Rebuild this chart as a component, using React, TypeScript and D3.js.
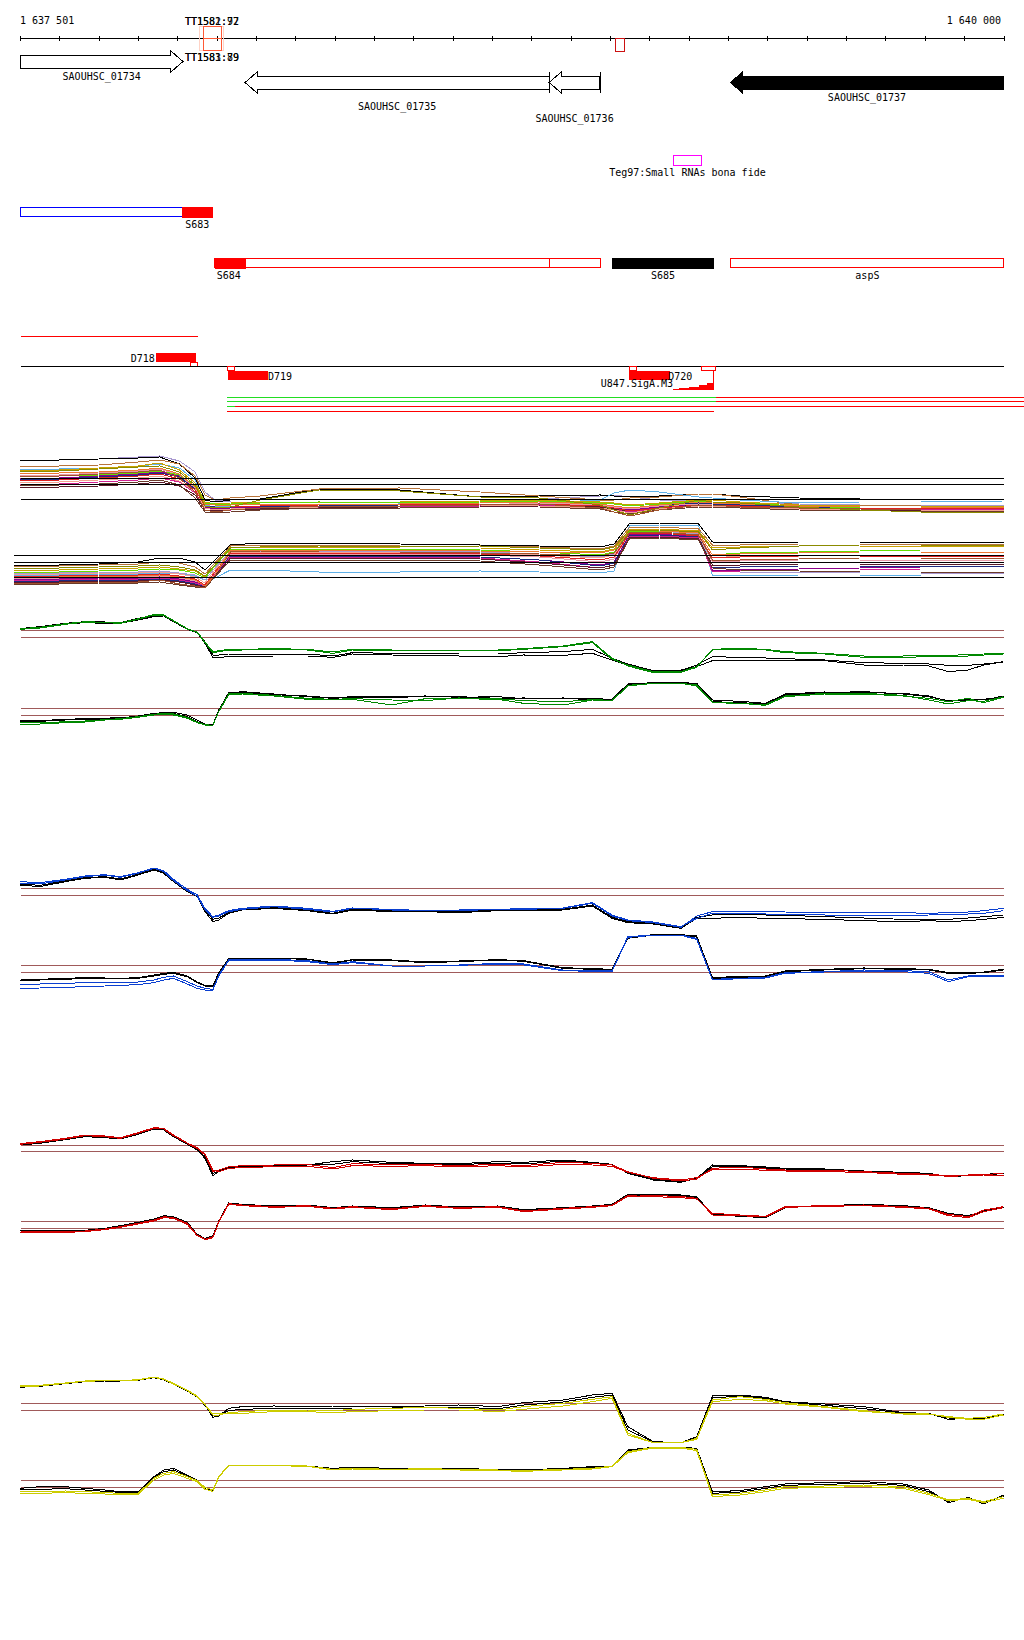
import React from 'react';
import * as d3 from 'd3';

// ---------------- data ----------------
const VIEW_START = 1637501;
const VIEW_END = 1640000;
const EXT_END = 1640052;
const TICKS = d3.range(1637500, 1640001, 100);
const RULER_LABELS = ['1 637 501', '1 640 000'];

const GENE_NAMES = ['SAOUHSC_01734', 'SAOUHSC_01735', 'SAOUHSC_01736', 'SAOUHSC_01737'];
const GENE_STARTS = [1637501, 1638072, 1638845, 1639306];
const GENE_ENDS = [1637914, 1638845, 1638974, 1640000];
const GENE_STRANDS = [1, -1, -1, -1];
const GENE_FILLED = [false, false, false, true];
const GENE_BARRED = [false, true, true, false];

const TT_LABELS_TOP = ['TT1581:97', 'TT1582:72'];
const TT_LABELS_BOTTOM = ['TT1581:79', 'TT1583:89'];
const TT_POS = 1637919;
const TT_BOX_STARTS = [1637957, 1637966];
const TT_BOX_ENDS = [1638016, 1638012];
const TERM_BOX = [1639013, 1639036];

const TEG97_LABEL = 'Teg97:Small RNAs bona fide';
const TEG97 = [1639160, 1639233];

const S683_OUTLINE = [1637501, 1637912];
const S683_FILL = [1637912, 1637990];
const S684_SEGMENTS = [[1637995, 1638845], [1638845, 1638975]];
const S684_FILL = [1637995, 1638074];
const S685_FILL = [1639005, 1639264];
const ASPS_OUTLINE = [1639307, 1640001];

const D_LINE = [1637501, 1637952];
const D718 = [1637845, 1637947];
const D719 = [1638029, 1638130];
const D720 = [1639048, 1639153];
const SMALL_BOXES_UP = [[1637932, 1637952]];
const SMALL_BOXES_DOWN = [[1638026, 1638046], [1639048, 1639066], [1639233, 1639268]];
const STAIR_POS = [1639160, 1639175, 1639201, 1639226, 1639246, 1639264];
const STAIR_VAL = [1, 2, 3.3, 4.7, 6.7, 6.7];
const STAIR_END = 1639264;

// green/red alignment tracks: [start, switch, end]
const ALIGN_TRACKS = [
  [1638026, 1639268, EXT_END],
  [1638026, 1639268, EXT_END],
  [1638026, 1638046, EXT_END],
  [1638026, 1638026, 1639264],
];

// ---------- multi-sample panel ----------
const MPOS_TOP = [1637500, 1637600, 1637700, 1637800, 1637855, 1637905, 1637945, 1637970, 1637995, 1638035, 1638110, 1638260, 1638465, 1638670, 1638820, 1638975, 1639010, 1639050, 1639125, 1639225, 1639260, 1639330, 1639480, 1639635, 1639790, 1640000];
const MPOS_BOT = [1637485, 1637600, 1637700, 1637800, 1637855, 1637905, 1637945, 1637970, 1637995, 1638035, 1638110, 1638260, 1638465, 1638670, 1638820, 1638975, 1639010, 1639050, 1639125, 1639225, 1639260, 1639330, 1639480, 1639635, 1639790, 1640000];
const MREF_TOP = [121.7, 115.7, 100.7];
const MREF_BOT = [45, 37.7, 22.7];

const M_TOP_L16 = [139, 140, 141, 143, 144, 139, 128, 108, 100, 98, 98, 98, 98, 99, 101, 104, 105, 103, 100, 99, 98, 97, 96, 95, 95, 95];
const M_TOP_L1 = [140, 140, 141, 142, 143, 136, 122, 100, 98, 100, 101, 111, 110, 103, 104, 105, 104, 103, 104, 106, 106, 104, 102, 101, 101, 101];
const M_TOP_L2 = [130, 131, 132, 134, 136, 132, 120, 95, 93, 94, 94, 95, 96, 95, 97, 100, 107, 110, 108, 103, 102, 100, 97, 98, 98, 99];
const M_TOP_L13 = [133, 134, 135, 138, 140, 136, 124, 105, 100, 102, 104, 111, 112, 108, 104, 100, 100, 102, 103, 106, 106, 103, 95, 95, 94, 94];
const M_TOP_L12 = [129, 130, 132, 134, 137, 130, 117, 98, 96, 97, 98, 98, 98, 99, 100, 98, 97, 95, 97, 100, 100, 98, 95, 94, 94, 94];
const M_TOP_L6 = [122, 122, 124, 126, 128, 124, 112, 93, 91, 92, 93, 93, 94, 94, 95, 94, 92, 90, 93, 96, 96, 95, 93, 92, 92, 92];
const M_TOP_L15 = [121, 121, 123, 125, 127, 123, 111, 94, 93, 93, 94, 94, 95, 95, 96, 95, 93, 91, 94, 97, 96, 95, 93, 92, 92, 92];
const M_TOP_L10 = [116, 116, 118, 120, 122, 118, 107, 92, 90, 90, 92, 93, 93, 94, 95, 94, 91, 88, 92, 95, 95, 94, 92, 91, 91, 91];
const M_TOP_L11 = [113, 113, 114, 116, 118, 114, 105, 90, 89, 90, 91, 92, 93, 93, 94, 93, 91, 89, 92, 95, 94, 93, 91, 90, 89, 89];
const M_TOP_L17 = [115, 115, 116, 118, 120, 115, 102, 88, 87, 88, 90, 92, 92, 93, 93, 91, 88, 86, 90, 93, 93, 92, 90, 89, 89, 89];
const M_TOP_L14 = [125, 125, 127, 129, 131, 125, 112, 92, 90, 91, 92, 93, 94, 95, 97, 95, 93, 91, 94, 96, 95, 94, 92, 91, 90, 90];
const M_TOP_L9 = [118, 118, 120, 122, 124, 119, 108, 92, 90, 91, 92, 93, 94, 95, 94, 92, 90, 87, 91, 94, 94, 93, 91, 90, 90, 90];
const M_TOP_L7 = [123, 124, 125, 127, 129, 125, 114, 97, 96, 96, 97, 98, 97, 98, 99, 97, 96, 94, 96, 99, 98, 97, 94, 92, 92, 92];
const M_TOP_L8 = [120, 120, 122, 124, 126, 121, 110, 94, 92, 93, 94, 95, 95, 96, 96, 94, 92, 89, 92, 95, 95, 94, 92, 92, 92, 91];
const M_TOP_L5 = [124, 124, 126, 128, 130, 122, 108, 90, 88, 90, 92, 94, 94, 95, 96, 92, 88, 84, 90, 95, 95, 93, 92, 91, 90, 90];
const M_TOP_L4 = [126, 127, 128, 130, 132, 126, 113, 96, 95, 95, 96, 96, 96, 97, 98, 96, 94, 92, 95, 98, 97, 96, 94, 93, 93, 93];
const M_TOP_L3 = [128, 129, 131, 133, 134, 128, 115, 94, 92, 93, 100, 110, 109, 103, 102, 95, 90, 85, 92, 100, 98, 97, 93, 90, 88, 88];

const M_BOT_M1 = [35, 35, 36, 38, 42, 42, 38, 30, 40, 55, 57, 57, 56, 55, 54, 53, 56, 77, 77, 76, 58, 57, 58, 58, 58, 58];
const M_BOT_M2 = [25, 25, 26, 26, 27, 26, 24, 20, 22, 30, 30, 28, 28, 29, 28, 27, 29, 75, 75, 74, 25, 24, 25, 25, 24, 24];
const M_BOT_M13 = [34, 34, 35, 36, 38, 37, 33, 26, 37, 54, 55, 55, 54, 54, 53, 51, 54, 73, 73, 71, 55, 55, 56, 56, 56, 56];
const M_BOT_M16 = [27, 27, 28, 28, 29, 27, 25, 20, 32, 49, 49, 49, 49, 48, 46, 43, 46, 69, 69, 66, 30, 28, 28, 27, 27, 27];
const M_BOT_M12 = [30, 30, 31, 32, 33, 31, 29, 23, 34, 53, 53, 53, 52, 52, 50, 48, 51, 71, 71, 69, 52, 53, 54, 54, 54, 54];
const M_BOT_M6 = [21, 21, 22, 22, 23, 21, 18, 14, 28, 44, 44, 44, 44, 43, 40, 35, 38, 66, 66, 63, 30, 30, 31, 32, 33, 33];
const M_BOT_M15 = [19, 19, 20, 20, 21, 19, 16, 14, 25, 44, 44, 44, 44, 43, 40, 34, 37, 65, 65, 63, 32, 33, 34, 34, 34, 34];
const M_BOT_M10 = [20, 20, 21, 21, 22, 20, 17, 14, 26, 43, 43, 43, 43, 42, 38, 32, 35, 64, 64, 62, 28, 29, 30, 30, 31, 31];
const M_BOT_M11 = [18, 18, 19, 19, 20, 18, 15, 13, 24, 42, 42, 42, 42, 41, 37, 32, 35, 63, 63, 61, 35, 35, 36, 36, 36, 36];
const M_BOT_M17 = [16, 16, 17, 17, 18, 15, 13, 12, 23, 40, 40, 40, 40, 39, 35, 30, 33, 62, 62, 60, 32, 30, 29, 28, 28, 28];
const M_BOT_M14 = [22, 22, 23, 23, 24, 22, 19, 15, 27, 46, 46, 46, 46, 45, 43, 38, 41, 67, 67, 64, 38, 39, 40, 40, 40, 40];
const M_BOT_M9 = [26, 26, 27, 27, 28, 26, 23, 17, 30, 48, 48, 48, 48, 47, 45, 42, 45, 68, 68, 65, 42, 44, 44, 45, 45, 45];
const M_BOT_M7 = [28, 28, 29, 30, 31, 30, 27, 22, 34, 51, 51, 51, 51, 50, 48, 45, 48, 69, 69, 67, 45, 47, 48, 49, 50, 50];
const M_BOT_M8 = [24, 24, 25, 25, 26, 24, 21, 15, 28, 47, 47, 47, 47, 46, 44, 40, 43, 67, 67, 64, 42, 43, 44, 44, 44, 44];
const M_BOT_M5 = [17, 17, 18, 18, 20, 16, 14, 12, 25, 48, 49, 48, 48, 47, 46, 44, 47, 68, 68, 65, 40, 40, 41, 42, 42, 42];
const M_BOT_M4 = [23, 23, 24, 24, 25, 23, 20, 14, 25, 50, 50, 50, 50, 49, 48, 47, 50, 70, 69, 67, 45, 46, 47, 48, 48, 48];
const M_BOT_M3 = [32, 32, 33, 34, 35, 33, 30, 24, 35, 52, 53, 54, 53, 54, 52, 50, 53, 70, 70, 68, 50, 52, 54, 55, 55, 55];

// ---------- condition panels ----------
const LPOS = [1637500, 1637550, 1637615, 1637665, 1637715, 1637755, 1637800, 1637840, 1637865, 1637890, 1637925, 1637950, 1637970, 1637990, 1638005, 1638030, 1638065, 1638145, 1638230, 1638295, 1638345, 1638445, 1638530, 1638615, 1638715, 1638780, 1638880, 1638955, 1639005, 1639045, 1639110, 1639180, 1639220, 1639260, 1639330, 1639395, 1639445, 1639545, 1639645, 1639745, 1639810, 1639860, 1639910, 1639950, 1640000];

const GREEN_REFS = [409, 387, 175, 154];
const GREEN_A_BLACK = [413, 417, 428, 432, 430, 430, 440, 450, 452, 435, 412, 402, 370, 328, 328, 330, 330, 332, 332, 328, 338, 335, 333, 332, 330, 335, 334, 340, 320, 305, 288, 290, 300, 318, 318, 318, 318, 318, 305, 305, 302, 285, 290, 305, 315];
const GREEN_A_BLACK2 = [414, 420, 430, 435, 434, 432, 445, 453, 453, 438, 414, 404, 375, 335, 335, 338, 338, 338, 338, 332, 342, 340, 340, 338, 338, 342, 345, 352, 325, 308, 288, 288, 305, 330, 328, 326, 324, 320, 312, 310, 308, 304, 304, 308, 314];
const GREEN_A_COL = [412, 416, 427, 434, 432, 430, 442, 455, 454, 437, 413, 403, 372, 342, 345, 350, 350, 352, 350, 340, 350, 348, 348, 348, 348, 352, 360, 372, 322, 305, 285, 285, 300, 350, 353, 350, 342, 338, 328, 328, 330, 330, 332, 335, 338];
const GREEN_A_COL2 = [414, 418, 429, 435, 433, 431, 444, 456, 455, 438, 414, 404, 374, 345, 348, 352, 352, 354, 352, 344, 352, 350, 350, 350, 350, 354, 362, 375, 325, 302, 282, 283, 298, 352, 355, 352, 345, 340, 332, 332, 334, 334, 336, 338, 340];
const GREEN_B_BLACK = [138, 138, 142, 144, 145, 148, 150, 158, 160, 163, 155, 140, 128, 126, 170, 220, 225, 218, 210, 205, 208, 208, 210, 210, 205, 206, 204, 202, 200, 245, 252, 252, 248, 195, 192, 188, 215, 222, 225, 218, 210, 198, 202, 200, 212];
const GREEN_B_BLACK2 = [135, 136, 140, 141, 143, 146, 152, 160, 162, 160, 150, 135, 126, 125, 168, 222, 222, 216, 212, 206, 210, 210, 212, 208, 210, 204, 206, 204, 202, 248, 252, 252, 250, 200, 196, 190, 218, 224, 222, 220, 212, 196, 200, 202, 210];
const GREEN_B_COL = [128, 128, 132, 134, 140, 142, 148, 155, 158, 155, 145, 132, 125, 125, 165, 215, 218, 212, 202, 200, 202, 185, 204, 204, 202, 190, 185, 200, 198, 242, 250, 250, 242, 192, 190, 184, 210, 218, 218, 212, 205, 195, 205, 192, 208];
const GREEN_B_COL2 = [132, 131, 135, 137, 141, 144, 150, 157, 160, 158, 148, 134, 126, 124, 166, 218, 220, 214, 205, 202, 204, 200, 198, 206, 204, 198, 195, 201, 199, 244, 250, 250, 245, 194, 190, 186, 212, 220, 220, 214, 200, 188, 198, 196, 210];

const BLUE_REFS = [415, 395, 184, 163];
const BLUE_A_BLACK = [425, 420, 435, 445, 448, 440, 455, 470, 460, 435, 405, 390, 345, 315, 320, 340, 350, 355, 348, 338, 350, 345, 345, 342, 348, 348, 350, 362, 325, 312, 308, 295, 325, 325, 328, 325, 324, 322, 318, 315, 318, 315, 318, 322, 328];
const BLUE_A_BLACK2 = [428, 424, 437, 447, 450, 443, 457, 472, 462, 437, 406, 391, 348, 322, 326, 342, 351, 357, 350, 340, 352, 348, 347, 345, 350, 350, 352, 365, 328, 315, 310, 297, 328, 335, 336, 335, 334, 330, 326, 322, 320, 322, 326, 330, 335];
const BLUE_A_COL = [430, 428, 440, 450, 455, 448, 460, 475, 465, 438, 408, 392, 350, 328, 332, 345, 352, 360, 352, 344, 355, 352, 348, 348, 352, 352, 355, 370, 332, 318, 312, 298, 332, 345, 345, 345, 344, 342, 342, 342, 340, 342, 344, 348, 355];
const BLUE_A_COL2 = [435, 432, 442, 452, 456, 450, 462, 476, 468, 442, 412, 396, 355, 330, 335, 348, 355, 362, 355, 346, 356, 350, 350, 350, 352, 354, 356, 372, 335, 320, 314, 300, 325, 340, 340, 338, 336, 335, 335, 334, 335, 336, 338, 340, 348];
const BLUE_B_BLACK = [140, 140, 142, 145, 144, 143, 145, 152, 157, 160, 150, 132, 122, 120, 160, 202, 204, 205, 202, 190, 200, 198, 192, 195, 200, 196, 175, 172, 170, 265, 275, 275, 270, 145, 148, 150, 165, 170, 174, 172, 170, 160, 160, 162, 170];
const BLUE_B_BLACK2 = [143, 142, 145, 147, 146, 145, 147, 155, 160, 163, 152, 134, 124, 122, 162, 204, 206, 206, 203, 192, 201, 200, 194, 197, 201, 198, 177, 174, 172, 268, 276, 276, 272, 148, 150, 152, 167, 172, 176, 174, 172, 162, 162, 164, 172];
const BLUE_B_COL = [128, 128, 130, 132, 132, 132, 134, 140, 148, 152, 135, 122, 115, 112, 155, 200, 202, 202, 198, 188, 195, 182, 182, 185, 190, 188, 170, 168, 168, 270, 275, 275, 265, 142, 145, 148, 162, 165, 170, 168, 165, 140, 152, 155, 155];
const BLUE_B_COL2 = [115, 116, 118, 120, 122, 124, 126, 132, 140, 145, 128, 115, 110, 110, 152, 198, 200, 200, 195, 186, 192, 182, 182, 184, 188, 185, 168, 166, 166, 268, 274, 274, 262, 140, 144, 146, 160, 164, 166, 165, 160, 135, 150, 150, 150];

const RED_REFS = [379, 360, 150, 131];
const RED_A_BLACK = [380, 385, 396, 405, 402, 398, 412, 428, 425, 405, 382, 365, 340, 288, 300, 312, 315, 318, 320, 330, 335, 328, 325, 324, 330, 328, 335, 328, 322, 295, 275, 268, 280, 320, 318, 314, 310, 308, 302, 298, 295, 285, 288, 292, 295];
const RED_A_BLACK2 = [381, 386, 397, 406, 404, 399, 414, 429, 427, 407, 383, 368, 345, 294, 302, 314, 316, 319, 321, 322, 330, 324, 323, 321, 326, 323, 332, 326, 321, 297, 277, 270, 279, 315, 316, 311, 308, 306, 301, 296, 293, 287, 289, 291, 294];
const RED_A_COL = [382, 388, 398, 408, 405, 400, 415, 430, 428, 408, 385, 370, 350, 300, 305, 315, 318, 320, 322, 312, 324, 320, 322, 318, 322, 318, 328, 325, 320, 300, 280, 272, 278, 310, 314, 308, 305, 305, 300, 295, 292, 288, 290, 292, 294];
const RED_A_COL2 = [384, 390, 400, 410, 407, 402, 417, 432, 430, 410, 386, 372, 352, 305, 300, 310, 312, 315, 316, 308, 318, 316, 318, 314, 318, 314, 322, 320, 316, 298, 282, 275, 282, 305, 308, 304, 302, 300, 298, 292, 290, 286, 288, 290, 290];
const RED_B_BLACK = [125, 124, 122, 124, 130, 138, 148, 158, 168, 165, 148, 112, 100, 108, 152, 206, 202, 197, 200, 192, 197, 192, 200, 194, 197, 186, 192, 197, 202, 232, 232, 230, 225, 172, 166, 162, 192, 198, 202, 198, 192, 175, 168, 182, 192];
const RED_B_BLACK2 = [123, 122, 121, 123, 129, 136, 146, 156, 166, 163, 146, 111, 98, 106, 151, 205, 201, 196, 199, 191, 196, 190, 199, 193, 196, 184, 191, 196, 201, 230, 230, 228, 222, 174, 168, 164, 194, 197, 201, 196, 191, 174, 166, 181, 193];
const RED_B_COL = [122, 120, 120, 122, 128, 135, 145, 155, 165, 162, 145, 110, 97, 105, 150, 204, 200, 195, 198, 190, 195, 188, 198, 192, 195, 182, 190, 195, 200, 228, 225, 222, 218, 175, 170, 166, 195, 198, 200, 195, 190, 172, 165, 185, 195];
const RED_B_COL2 = [118, 117, 118, 120, 126, 133, 143, 152, 162, 160, 142, 108, 96, 102, 148, 202, 198, 193, 196, 188, 193, 186, 196, 190, 193, 180, 188, 193, 198, 226, 228, 226, 220, 170, 168, 164, 193, 196, 198, 193, 188, 168, 162, 180, 192];

const YELLOW_REFS = [370, 349, 140, 118];
const YELLOW_A_BLACK = [418, 422, 430, 436, 438, 438, 440, 448, 442, 428, 408, 390, 365, 328, 332, 355, 360, 362, 360, 362, 362, 360, 362, 365, 360, 372, 380, 395, 400, 300, 255, 252, 270, 392, 395, 388, 375, 368, 360, 342, 340, 322, 325, 322, 338];
const YELLOW_A_BLACK2 = [419, 421, 429, 435, 437, 437, 439, 447, 441, 427, 407, 389, 364, 332, 335, 348, 352, 355, 354, 355, 356, 356, 357, 358, 354, 365, 374, 388, 395, 290, 254, 252, 268, 386, 392, 385, 374, 364, 354, 341, 339, 326, 323, 324, 336];
const YELLOW_A_COL = [420, 422, 430, 436, 438, 438, 440, 448, 442, 428, 408, 390, 365, 335, 335, 342, 345, 350, 350, 348, 352, 355, 358, 355, 350, 360, 370, 382, 390, 280, 252, 252, 265, 380, 390, 382, 372, 360, 348, 338, 338, 328, 322, 322, 335];
const YELLOW_A_COL2 = [422, 424, 431, 437, 439, 438, 441, 449, 443, 430, 410, 392, 366, 338, 340, 338, 340, 345, 345, 342, 345, 348, 350, 350, 345, 352, 362, 375, 385, 275, 252, 252, 262, 375, 382, 378, 368, 358, 345, 340, 338, 330, 325, 328, 338];
const YELLOW_B_BLACK = [115, 120, 120, 115, 110, 105, 105, 150, 170, 175, 155, 140, 112, 108, 150, 185, 185, 184, 182, 175, 178, 175, 175, 174, 172, 170, 175, 180, 182, 230, 238, 238, 235, 105, 108, 120, 128, 132, 135, 128, 110, 72, 88, 68, 95];
const YELLOW_B_BLACK2 = [110, 112, 114, 110, 106, 103, 103, 148, 165, 170, 152, 139, 114, 108, 150, 185, 185, 184, 182, 174, 177, 174, 175, 173, 171, 169, 174, 178, 182, 228, 238, 238, 234, 100, 104, 115, 124, 127, 130, 124, 105, 76, 86, 72, 92];
const YELLOW_B_COL = [105, 105, 107, 105, 102, 100, 100, 145, 160, 165, 150, 138, 118, 110, 150, 185, 185, 184, 182, 172, 175, 172, 174, 172, 170, 168, 172, 175, 182, 225, 238, 238, 232, 95, 100, 110, 120, 122, 125, 120, 100, 80, 85, 75, 90];
const YELLOW_B_COL2 = [100, 100, 102, 100, 98, 96, 96, 140, 155, 160, 145, 135, 112, 106, 148, 183, 184, 183, 181, 170, 173, 170, 172, 170, 168, 166, 170, 173, 180, 222, 236, 236, 228, 90, 95, 105, 115, 118, 120, 115, 96, 78, 82, 72, 85];

// ---------------- styles / layout ----------------
const FONT = 'DejaVu Sans Mono';
const M_TOP_SERIES: [number[], string][] = [
  [M_TOP_L16, '#a898d0'], [M_TOP_L1, '#000000'], [M_TOP_L13, '#b8743a'], [M_TOP_L2, '#5fb0e8'],
  [M_TOP_L12, '#c8a000'], [M_TOP_L6, '#8b008b'], [M_TOP_L15, '#1c2a80'], [M_TOP_L10, '#d02090'],
  [M_TOP_L11, '#5a1a2a'], [M_TOP_L17, '#6b3a2a'], [M_TOP_L14, '#e89aa8'], [M_TOP_L9, '#f4a090'],
  [M_TOP_L7, '#66dd00'], [M_TOP_L8, '#dd2222'], [M_TOP_L5, '#a0522d'], [M_TOP_L4, '#ee7733'], [M_TOP_L3, '#8b8b00'],
];
const M_BOT_SERIES: [number[], string][] = [
  [M_BOT_M1, '#000000'], [M_BOT_M2, '#5fb0e8'], [M_BOT_M13, '#b8743a'], [M_BOT_M16, '#a898d0'],
  [M_BOT_M12, '#c8a000'], [M_BOT_M6, '#8b008b'], [M_BOT_M15, '#1c2a80'], [M_BOT_M10, '#d02090'],
  [M_BOT_M11, '#5a1a2a'], [M_BOT_M17, '#6b3a2a'], [M_BOT_M14, '#e89aa8'], [M_BOT_M9, '#f4a090'],
  [M_BOT_M7, '#66dd00'], [M_BOT_M8, '#dd2222'], [M_BOT_M5, '#a0522d'], [M_BOT_M4, '#ee7733'], [M_BOT_M3, '#8b8b00'],
];

const PANELS = [
  { top: 600, color: '#008800', refs: GREEN_REFS, black: [GREEN_A_BLACK, GREEN_A_BLACK2, GREEN_B_BLACK, GREEN_B_BLACK2], col: [GREEN_A_COL, GREEN_A_COL2, GREEN_B_COL, GREEN_B_COL2] },
  { top: 860, color: '#0a3fd0', refs: BLUE_REFS, black: [BLUE_A_BLACK, BLUE_A_BLACK2, BLUE_B_BLACK, BLUE_B_BLACK2], col: [BLUE_A_COL, BLUE_A_COL2, BLUE_B_COL, BLUE_B_COL2] },
  { top: 1105, color: '#d00000', refs: RED_REFS, black: [RED_A_BLACK, RED_A_BLACK2, RED_B_BLACK, RED_B_BLACK2], col: [RED_A_COL, RED_A_COL2, RED_B_COL, RED_B_COL2] },
  { top: 1360, color: '#cccc00', refs: YELLOW_REFS, black: [YELLOW_A_BLACK, YELLOW_A_BLACK2, YELLOW_B_BLACK, YELLOW_B_BLACK2], col: [YELLOW_A_COL, YELLOW_A_COL2, YELLOW_B_COL, YELLOW_B_COL2] },
];

export default function App() {
  const x = d3.scaleLinear().domain([VIEW_START, VIEW_END]).range([20.5, 1003.5]);
  const w = (a: number, b: number) => x(b) - x(a);

  // gene arrow geometry
  const geneRow = [
    { bt: 55, bb: 68, ht: 51, hb: 72 },
    { bt: 76, bb: 89, ht: 72, hb: 93 },
  ];
  const labelBase = [80, 110, 122, 101];
  const head = 12;
  const genePath = (i: number) => {
    const r = geneRow[i === 0 ? 0 : 1];
    const x0 = x(GENE_STARTS[i]), x1 = x(GENE_ENDS[i]);
    const mid = (r.ht + r.hb) / 2;
    if (GENE_STRANDS[i] > 0) {
      return `M${x0},${r.bt}L${x1 - head},${r.bt}L${x1 - head},${r.ht}L${x1},${mid}L${x1 - head},${r.hb}L${x1 - head},${r.bb}L${x0},${r.bb}Z`;
    }
    return `M${x1},${r.bt}L${x0 + head},${r.bt}L${x0 + head},${r.ht}L${x0},${mid}L${x0 + head},${r.hb}L${x0 + head},${r.bb}L${x1},${r.bb}Z`;
  };

  // multi panel
  const my = d3.scaleLinear().domain([0, 200]).range([600, 400]);
  const mLine = (pos: number[]) => d3.line<number>().x((_, i) => x(pos[i])).y((d) => my(d));

  // stair
  const sy = d3.scaleLinear().domain([0, 10]).range([390, 380]);
  const stairArea = d3.area<number>().x((_, i) => x(STAIR_POS[i])).y0(390).y1((d) => sy(d)).curve(d3.curveStepAfter);

  return (
    <svg width={1024} height={1640} style={{ position: 'absolute', left: 0, top: 0 }} fontFamily={FONT} fontSize={10} shapeRendering="crispEdges">
      <rect x={0} y={0} width={1024} height={1640} fill="#fff" />

      {/* ruler */}
      <text x={x(VIEW_START) - 0.5} y={24}>{RULER_LABELS[0]}</text>
      <text x={1001} y={24} textAnchor="end">{RULER_LABELS[1]}</text>
      <line x1={x(VIEW_START)} x2={x(VIEW_END)} y1={38.5} y2={38.5} stroke="#000" />
      {TICKS.map((t) => (
        <line key={t} x1={Math.round(x(t)) + 0.5} x2={Math.round(x(t)) + 0.5} y1={36} y2={41} stroke="#000" />
      ))}

      {/* TT terminators */}
      {TT_BOX_STARTS.map((s, i) => (
        <rect key={i} x={x(s)} y={26.5} width={w(s, TT_BOX_ENDS[i])} height={24} fill="none" stroke={i === 0 ? '#ffd3c6' : '#ff5a36'} />
      ))}
      <line x1={x(TT_BOX_STARTS[1])} x2={x(TT_BOX_ENDS[1])} y1={38.5} y2={38.5} stroke="#ff5a36" />
      {TT_LABELS_TOP.map((t) => (<text key={t} x={x(TT_POS)} y={24.5}>{t}</text>))}
      {TT_LABELS_BOTTOM.map((t) => (<text key={t} x={x(TT_POS)} y={60.5}>{t}</text>))}
      <rect x={x(TERM_BOX[0])} y={38.5} width={w(TERM_BOX[0], TERM_BOX[1])} height={13} fill="none" stroke="#cc1111" />

      {/* genes */}
      {GENE_NAMES.map((n, i) => (
        <g key={n}>
          <path d={genePath(i)} fill={GENE_FILLED[i] ? '#000' : '#fff'} stroke="#000" />
          {GENE_BARRED[i] && (
            <line x1={Math.round(x(GENE_ENDS[i])) + 0.5} x2={Math.round(x(GENE_ENDS[i])) + 0.5} y1={72} y2={93} stroke="#000" />
          )}
          <text x={(x(GENE_STARTS[i]) + x(GENE_ENDS[i])) / 2} y={labelBase[i]} textAnchor="middle">{n}</text>
        </g>
      ))}

      {/* Teg97 */}
      <rect x={x(TEG97[0])} y={155.5} width={w(TEG97[0], TEG97[1])} height={10} fill="none" stroke="#ff00ff" />
      <text x={(x(TEG97[0]) + x(TEG97[1])) / 2} y={176} textAnchor="middle">{TEG97_LABEL}</text>

      {/* S683 */}
      <rect x={x(S683_OUTLINE[0])} y={207.5} width={w(S683_OUTLINE[0], S683_OUTLINE[1])} height={9} fill="none" stroke="#0000ff" />
      <rect x={x(S683_FILL[0])} y={207} width={w(S683_FILL[0], S683_FILL[1])} height={10.5} fill="#ff0000" />
      <text x={x(S683_FILL[0]) + 3} y={227.5}>S683</text>

      {/* S684 / S685 / aspS */}
      {S684_SEGMENTS.map((s, i) => (
        <rect key={i} x={x(s[0])} y={258.5} width={w(s[0], s[1])} height={9} fill="none" stroke="#ff0000" />
      ))}
      <rect x={x(S684_FILL[0])} y={258} width={w(S684_FILL[0], S684_FILL[1])} height={10.5} fill="#ff0000" />
      <text x={x(S684_FILL[0]) + 2} y={279}>S684</text>
      <rect x={x(S685_FILL[0])} y={258} width={w(S685_FILL[0], S685_FILL[1])} height={10.5} fill="#000" />
      <text x={(x(S685_FILL[0]) + x(S685_FILL[1])) / 2} y={279} textAnchor="middle">S685</text>
      <rect x={x(ASPS_OUTLINE[0])} y={258.5} width={w(ASPS_OUTLINE[0], ASPS_OUTLINE[1])} height={9} fill="none" stroke="#ff0000" />
      <text x={(x(ASPS_OUTLINE[0]) + x(ASPS_OUTLINE[1])) / 2} y={279} textAnchor="middle">aspS</text>

      {/* D-track */}
      <line x1={x(D_LINE[0])} x2={x(D_LINE[1])} y1={336.5} y2={336.5} stroke="#ff0000" />
      <rect x={x(D718[0])} y={353} width={w(D718[0], D718[1])} height={9} fill="#ff0000" />
      <text x={x(D718[0]) - 1} y={361.5} textAnchor="end">D718</text>
      {SMALL_BOXES_UP.map((b, i) => (
        <rect key={i} x={x(b[0])} y={362.5} width={w(b[0], b[1])} height={4} fill="#fff" stroke="#ff0000" />
      ))}
      <line x1={x(VIEW_START)} x2={x(VIEW_END)} y1={366.5} y2={366.5} stroke="#000" />
      {SMALL_BOXES_DOWN.map((b, i) => (
        <rect key={i} x={x(b[0])} y={366.5} width={w(b[0], b[1])} height={4} fill="none" stroke="#ff0000" />
      ))}
      <rect x={x(D719[0])} y={371} width={w(D719[0], D719[1])} height={9} fill="#ff0000" />
      <text x={x(D719[1])} y={379.5}>D719</text>
      <rect x={x(D720[0])} y={371} width={w(D720[0], D720[1])} height={9} fill="#ff0000" />
      <text x={x(D720[1]) - 2} y={379.5}>D720</text>
      <path d={stairArea(STAIR_VAL) || ''} fill="#ff0000" />
      <line x1={x(STAIR_END)} x2={x(STAIR_END)} y1={370} y2={390} stroke="#ff0000" />
      <text x={x(STAIR_POS[0])} y={387} textAnchor="end">U847.SigA.M3</text>

      {/* alignment tracks */}
      {ALIGN_TRACKS.map((t, i) => {
        const yy = [397.5, 401.5, 406.5, 411.5][i];
        return (
          <g key={i}>
            {t[1] > t[0] && <line x1={x(t[0])} x2={x(t[1])} y1={yy} y2={yy} stroke="#22dd22" />}
            <line x1={x(t[1])} x2={x(t[2])} y1={yy} y2={yy} stroke="#ff0000" />
          </g>
        );
      })}

      {/* multi-sample panel */}
      {M_TOP_SERIES.map(([v, c], i) => (
        <path key={'t' + i} d={mLine(MPOS_TOP)(v) || ''} fill="none" stroke={c} />
      ))}
      {M_BOT_SERIES.map(([v, c], i) => (
        <path key={'b' + i} d={mLine(MPOS_BOT)(v) || ''} fill="none" stroke={c} />
      ))}
      {MREF_TOP.map((r, i) => (
        <line key={'rt' + i} x1={x(VIEW_START)} x2={x(VIEW_END)} y1={my(r)} y2={my(r)} stroke="#000" />
      ))}
      {MREF_BOT.map((r, i) => (
        <line key={'rb' + i} x1={x(MPOS_BOT[0])} x2={x(VIEW_END)} y1={my(r)} y2={my(r)} stroke="#000" />
      ))}

      {/* condition panels */}
      {PANELS.map((p, pi) => {
        const y = d3.scaleLinear().domain([0, 500]).range([p.top + 500 / 3, p.top]);
        const line = d3.line<number>().x((_, i) => x(LPOS[i])).y((d) => y(d));
        return (
          <g key={pi}>
            {p.refs.map((r, i) => (
              <line key={i} x1={x(VIEW_START)} x2={x(VIEW_END)} y1={y(r)} y2={y(r)} stroke="#a05a5a" />
            ))}
            {p.black.map((s, i) => (<path key={'k' + i} d={line(s) || ''} fill="none" stroke="#000" />))}
            {p.col.map((s, i) => (<path key={'c' + i} d={line(s) || ''} fill="none" stroke={p.color} />))}
          </g>
        );
      })}
    </svg>
  );
}
